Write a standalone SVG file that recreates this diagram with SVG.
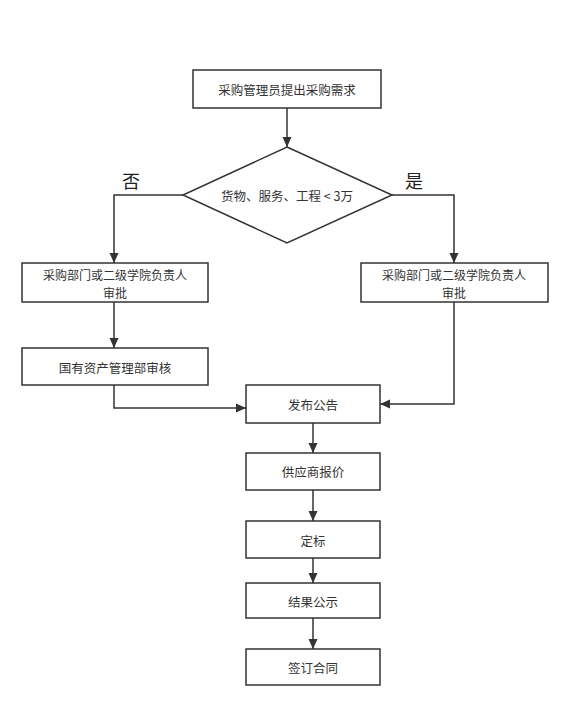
<svg xmlns="http://www.w3.org/2000/svg" width="568" height="708" viewBox="0 0 568 708">
<defs>
<marker id="ah" markerUnits="userSpaceOnUse" markerWidth="10" markerHeight="10" refX="10" refY="5" orient="auto">
<path d="M0,0.5 L10,5 L0,9.5 Z" fill="#333"/>
</marker>
<style>
.box{fill:#fff;stroke:#333;stroke-width:1.5}
.t{font-family:"Noto Sans CJK SC","Liberation Sans",sans-serif;font-size:12.5px;fill:#333;text-anchor:middle;dominant-baseline:central}
.t2{font-size:12px}
.lbl{font-family:"Noto Sans CJK SC","Liberation Sans",sans-serif;font-size:18px;fill:#222;text-anchor:middle;dominant-baseline:central}
.c{fill:none;stroke:#333;stroke-width:1.5;marker-end:url(#ah)}
</style>
</defs>
<rect width="568" height="708" fill="#fff"/>
<g id="connectors">
<path class="c" d="M287,108 L287,147"/>
<path class="c" d="M183,195 L114,195 L114,263"/>
<path class="c" d="M392,195 L454,195 L454,263"/>
<path class="c" d="M114,302 L114,348"/>
<path class="c" d="M114,385 L114,408 L246,408"/>
<path class="c" d="M454,302 L454,404 L380,404"/>
<path class="c" d="M313,423 L313,453"/>
<path class="c" d="M313,490 L313,521"/>
<path class="c" d="M313,558 L313,583"/>
<path class="c" d="M313,618 L313,649"/>
</g>
<g id="start">
<rect class="box" x="193" y="70" width="188" height="38"/>
<text class="t" x="287" y="89">采购管理员提出采购需求</text>
</g>
<g id="decision">
<polygon class="box" points="287,147 392,195 287,243 183,195"/>
<text class="t" x="287" y="195">货物、服务、工程 &lt; 3万</text>
</g>
<g id="label-no"><text class="lbl" x="131" y="180">否</text></g>
<g id="label-yes"><text class="lbl" x="414" y="180">是</text></g>
<g id="approve-left">
<rect class="box" x="22" y="263" width="186" height="39"/>
<text class="t t2" x="115" y="274.5">采购部门或二级学院负责人</text>
<text class="t t2" x="115" y="292.5">审批</text>
</g>
<g id="approve-right">
<rect class="box" x="361" y="263" width="187" height="39"/>
<text class="t t2" x="454" y="274.5">采购部门或二级学院负责人</text>
<text class="t t2" x="454" y="292.5">审批</text>
</g>
<g id="asset">
<rect class="box" x="22" y="348" width="186" height="37"/>
<text class="t" x="115" y="367">国有资产管理部审核</text>
</g>
<g id="publish">
<rect class="box" x="246" y="385" width="134" height="38"/>
<text class="t" x="313" y="404">发布公告</text>
</g>
<g id="quote">
<rect class="box" x="246" y="453" width="134" height="37"/>
<text class="t" x="313" y="471">供应商报价</text>
</g>
<g id="award">
<rect class="box" x="246" y="521" width="134" height="37"/>
<text class="t" x="313" y="540">定标</text>
</g>
<g id="result">
<rect class="box" x="246" y="583" width="134" height="35"/>
<text class="t" x="313" y="601">结果公示</text>
</g>
<g id="contract">
<rect class="box" x="246" y="649" width="134" height="36"/>
<text class="t" x="313" y="667">签订合同</text>
</g>
</svg>
